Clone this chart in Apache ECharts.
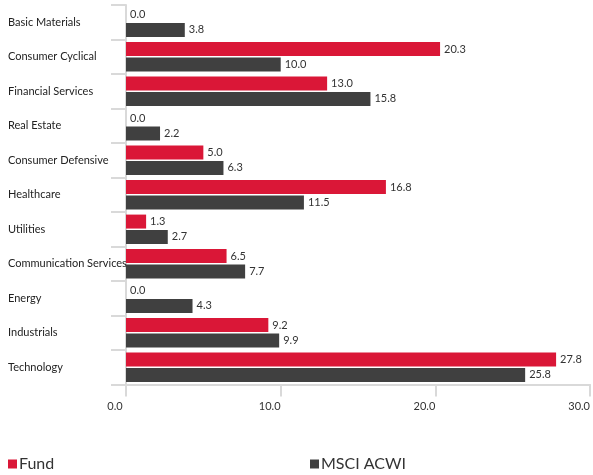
<!DOCTYPE html>
<html><head><meta charset="utf-8">
<script src="https://cdn.jsdelivr.net/npm/echarts@6/dist/echarts.min.js"></script>
<style>html,body{margin:0;padding:0;background:#fff}#c{width:593px;height:475px}</style>
</head><body><div id="c"></div>
<script>
const categories = ["Basic Materials","Consumer Cyclical","Financial Services","Real Estate","Consumer Defensive","Healthcare","Utilities","Communication Services","Energy","Industrials","Technology"];
const fundValues = [0.0,20.3,13.0,0.0,5.0,16.8,1.3,6.5,0.0,9.2,27.8];
const msciValues = [3.8,10.0,15.8,2.2,6.3,11.5,2.7,7.7,4.3,9.9,25.8];
const xTicks = [0,10,20,30];
const FONT = 'Lato';
const chart = echarts.init(document.getElementById('c'), null, {renderer:'canvas'});
const lbl = {show:true, position:'right', distance:4, color:'#333', fontFamily:FONT, fontSize:11, formatter:p=>p.value.toFixed(1)};
const legText = {fontSize:16, color:'#333', fontFamily:FONT, padding:[0,0,0,-3]};
chart.setOption({
  animation:false,
  textStyle:{fontFamily:FONT},
  grid:{left:126, right:0, top:5, bottom:90.5, containLabel:false},
  legend:[
    {data:['Fund'], left:8, top:456, padding:0, icon:'rect', itemWidth:9, itemHeight:9, itemGap:4, textStyle:legText},
    {data:['MSCI ACWI'], left:310, top:456, padding:0, icon:'rect', itemWidth:9, itemHeight:9, itemGap:4, textStyle:legText}
  ],
  xAxis:{type:'value', min:xTicks[0], max:xTicks[xTicks.length-1], interval:10,
    axisLine:{show:true, lineStyle:{color:'#d9d9d9', width:2}},
    axisTick:{show:true, length:12, lineStyle:{color:'#d9d9d9', width:2}},
    splitLine:{show:false},
    axisLabel:{margin:16, color:'#333', fontSize:11, fontFamily:FONT, formatter:v=>v.toFixed(1), padding:[0,22,0,0]}},
  yAxis:{type:'category', data:categories, inverse:true,
    axisLine:{show:true, lineStyle:{color:'#d9d9d9', width:2}},
    axisTick:{show:true, length:15, lineStyle:{color:'#d9d9d9', width:2}},
    axisLabel:{align:'left', margin:118, color:'#222', fontSize:11, fontFamily:FONT, verticalAlign:'middle'}},
  series:[
    {name:'Fund', type:'bar', data:fundValues, itemStyle:{color:'#DA1737'}, barGap:'10%', barCategoryGap:'15%', label:lbl},
    {name:'MSCI ACWI', type:'bar', data:msciValues, itemStyle:{color:'#404040'}, barGap:'10%', barCategoryGap:'15%', label:lbl}
  ]
});
</script></body></html>
